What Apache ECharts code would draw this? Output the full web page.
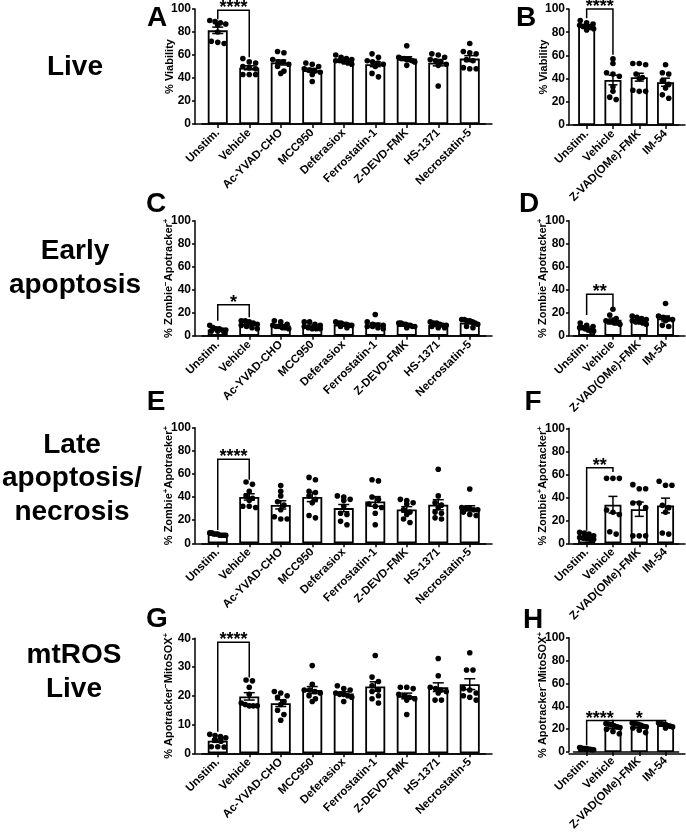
<!DOCTYPE html>
<html><head><meta charset="utf-8">
<script src="https://cdn.jsdelivr.net/npm/echarts@6/dist/echarts.min.js"></script>
<style>html,body{margin:0;padding:0;background:#fff}#c{width:686px;height:833px}</style>
</head><body><div id="c"></div>
<script>
// ---------- categories ----------
const catsLeft = ['Unstim.', 'Vehicle', 'Ac-YVAD-CHO', 'MCC950', 'Deferasiox', 'Ferrostatin-1', 'Z-DEVD-FMK', 'HS-1371', 'Necrostatin-5'];
const catsRight = ['Unstim.', 'Vehicle', 'Z-VAD(OMe)-FMK', 'IM-54'];

// ---------- individual replicate values (one array per group) ----------
const viabilityLeft = [
  [90, 89, 88, 87, 86, 80, 71, 70, 72],
  [57, 54, 53, 50, 49, 48, 43, 43, 43],
  [63, 62, 56, 54, 54, 52, 50, 46, 44],
  [53, 52, 50, 48, 47, 46, 45, 43, 37],
  [60, 58, 57, 56, 55, 55, 54, 53, 52],
  [61, 58, 55, 54, 53, 52, 50, 44, 41],
  [68, 58, 57, 57, 56, 56, 55, 54, 51],
  [61, 60, 58, 56, 55, 54, 52, 51, 33],
  [70, 63, 62, 61, 56, 55, 49, 48, 48]
];
const viabilityRight = [
  [90, 88, 87, 86, 85, 85, 84, 83, 82],
  [57, 53, 45, 44, 42, 33, 29, 24, 22],
  [53, 53, 52, 44, 41, 40, 30, 29, 29],
  [52, 45, 44, 38, 35, 32, 26, 23]
];
const earlyLeft = [
  [9, 7, 6, 6, 5, 5, 4, 4, 3],
  [13, 13, 12, 11, 10, 9, 8, 7, 6],
  [13, 12, 10, 9, 8, 8, 7, 7, 6],
  [12, 12, 10, 9, 8, 7, 6, 6, 6],
  [12, 11, 11, 10, 10, 9, 9, 8, 7],
  [18.5, 12, 10, 9, 9, 8, 8, 7, 6],
  [11, 11, 10, 10, 9, 9, 8, 8, 7],
  [12, 11, 11, 10, 9, 9, 8, 7, 7],
  [14, 14, 13, 13, 12, 11, 10, 8, 7]
];
const earlyRight = [
  [11, 9, 8, 7, 7, 6, 5, 4, 4],
  [23, 18, 15, 13, 12, 12, 11, 11, 10],
  [17, 16, 15, 14, 13, 12, 12, 11, 10],
  [28, 17, 16, 15, 14, 13, 9, 8]
];
const lateLeft = [
  [9, 9, 8, 8, 8, 7, 7, 7, 7],
  [53, 51, 45, 41, 39, 37, 32, 32, 31],
  [50, 45, 41, 36, 33, 29, 23, 21, 21],
  [57, 55, 45, 44, 41, 38, 35, 24, 22],
  [41, 40, 38, 37, 32, 26, 25, 19, 16],
  [55, 54, 40, 38, 34, 32, 31, 26, 16],
  [38, 37, 35, 34, 29, 27, 25, 21, 18],
  [64, 41, 35, 33, 31, 27, 26, 22, 21],
  [47, 31, 30, 30, 29, 29, 27, 25, 24]
];
const lateRight = [
  [9.5, 9, 8, 6.5, 5, 4.5, 4, 3.5, 3.5],
  [56.5, 56.5, 56.5, 29, 27, 25, 10, 8],
  [51, 47.5, 47.5, 35, 35, 31, 6.5, 6.5, 6.5],
  [54, 50.5, 50.5, 33, 31, 27, 9, 8]
];
const mtrosLeft = [
  [6.6, 6.2, 5.8, 5.4, 4.6, 4.2, 2.3, 2.3, 2.2],
  [25.5, 25.2, 23, 20.5, 17.5, 17, 16.5, 16.5, 16.5],
  [21.5, 21, 20, 19.5, 18, 17, 15, 13.5, 11.5],
  [30.5, 24, 22, 22, 21.5, 21, 20, 19, 18],
  [23.5, 22.5, 22, 21, 20.5, 20.5, 20, 19.5, 18],
  [34, 26.5, 25, 23.5, 22, 21.5, 20, 19, 17.5],
  [23, 23, 22.5, 20.5, 20, 19.5, 19, 18.5, 13.5],
  [33, 27, 23, 22.5, 22, 21.5, 21, 18.5, 18.5],
  [35, 29, 29, 22.5, 22, 21, 20, 19.5, 18.5]
];
const mtrosRight = [
  [4, 3.5, 3, 3, 3, 2.5, 2.5, 2, 2],
  [25, 24.5, 24, 23, 22, 21.5, 20, 18, 16],
  [25.5, 25, 24.5, 23.5, 22.5, 22, 21, 19, 17],
  [25.5, 25, 24.5, 24, 23.5, 23, 22.5, 22, 21]
];

// ---------- significance brackets: [from, to, top, leftLegEnd, rightLegEnd] ----------
const sigA = [[0, 1, 99, 91, 58]];       const sigALabels = ['****'];
const sigB = [[0, 1, 100, 92, 60.5]];    const sigBLabels = ['****'];
const sigC = [[0, 1, 27, 13, 16]];       const sigCLabels = ['*'];
const sigD = [[0, 1, 36, 18, 22]];       const sigDLabels = ['**'];
const sigE = [[0, 1, 72.6, 11.5, 55]];   const sigELabels = ['****'];
const sigF = [[0, 1, 65.6, 11, 62]];     const sigFLabels = ['**'];
const sigG = [[0, 1, 38.6, 7.5, 26.4]];  const sigGLabels = ['****'];
const sigH = [[0, 1, 27.5, 6, 25.5], [1, 3, 27.5, 25.5, 19]]; const sigHLabels = ['****', '*'];

// ---------- axis ticks ----------
const yMaxPct = 100, yStepPct = 20;
const yMaxG = 40, yStepG = 10;

const rowTitles = ['Live', 'Early\napoptosis', 'Late\napoptosis/\nnecrosis', 'mtROS\nLive'];
const panelLetters = ['A', 'B', 'C', 'D', 'E', 'F', 'G', 'H'];

// ---------- helpers ----------
const FONT = '"Liberation Sans", Arial, Helvetica, sans-serif';
function mean(a) { return a.reduce((s, v) => s + v, 0) / a.length; }
function sem(a) {
  const m = mean(a);
  const sd = Math.sqrt(a.reduce((s, v) => s + (v - m) * (v - m), 0) / (a.length - 1));
  return sd / Math.sqrt(a.length);
}

const LEFT = { left: 202, width: 283.5, frameLeft: 195, frameWidth: 297, off: 7, barW: 20, cap: 5.5, spread: 16 };
const RIGHT = { left: 573.5, width: 105.2, frameLeft: 569, frameWidth: 116, off: 4.5, barW: 17, cap: 4.5, spread: 14 };
const supRich = { sup: { fontSize: 8, fontWeight: 'bold', fontFamily: FONT, color: '#000', verticalAlign: 'top', padding: [0, 0, 5, 0] } };

const panels = [
  Object.assign({}, LEFT,  { top: 9,     height: 115,   cats: catsLeft,  data: viabilityLeft,  yMax: yMaxPct, yStep: yStepPct, name: '% Viability', sig: sigA, sigLabels: sigALabels }),
  Object.assign({}, RIGHT, { top: 9,     height: 116,   cats: catsRight, data: viabilityRight, yMax: yMaxPct, yStep: yStepPct, name: '% Viability', sig: sigB, sigLabels: sigBLabels }),
  Object.assign({}, LEFT,  { top: 220.7, height: 115,   cats: catsLeft,  data: earlyLeft,  yMax: yMaxPct, yStep: yStepPct, name: '% Zombie{sup|−}Apotracker{sup|+}', sig: sigC, sigLabels: sigCLabels }),
  Object.assign({}, RIGHT, { top: 220.7, height: 115,   cats: catsRight, data: earlyRight, yMax: yMaxPct, yStep: yStepPct, name: '% Zombie{sup|−}Apotracker{sup|+}', sig: sigD, sigLabels: sigDLabels }),
  Object.assign({}, LEFT,  { top: 427.7, height: 115.6, cats: catsLeft,  data: lateLeft,   yMax: yMaxPct, yStep: yStepPct, name: '% Zombie{sup|+}Apotracker{sup|+}', sig: sigE, sigLabels: sigELabels }),
  Object.assign({}, RIGHT, { top: 428.3, height: 115,   cats: catsRight, data: lateRight,  yMax: yMaxPct, yStep: yStepPct, name: '% Zombie{sup|+}Apotracker{sup|+}', sig: sigF, sigLabels: sigFLabels }),
  Object.assign({}, LEFT,  { top: 638.3, height: 115,   cats: catsLeft,  data: mtrosLeft,  yMax: yMaxG,   yStep: yStepG,   name: '% Apotracker{sup|−}MitoSOX{sup|+}', sig: sigG, sigLabels: sigGLabels }),
  Object.assign({}, RIGHT, { top: 637.7, height: 115.6, cats: catsRight, data: mtrosRight, yMax: yMaxPct, yStep: yStepPct, name: '% Apotracker{sup|−}MitoSOX{sup|+}', sig: sigH, sigLabels: sigHLabels })
];

function dotsRender(p) {
  return function (params, api) {
    const i = api.value(0);
    const vals = p.data[i];
    const m = mean(vals), s = sem(vals);
    const cx = api.coord([i, m])[0];
    const yTop = api.coord([i, m + s])[1];
    const yBot = api.coord([i, Math.max(0, m - s)])[1];
    const ch = [];
    const ls = { stroke: '#000', lineWidth: 1.5 };
    ch.push({ type: 'line', shape: { x1: cx, y1: yTop, x2: cx, y2: yBot }, style: ls });
    ch.push({ type: 'line', shape: { x1: cx - p.cap, y1: yTop, x2: cx + p.cap, y2: yTop }, style: ls });
    ch.push({ type: 'line', shape: { x1: cx - p.cap, y1: yBot, x2: cx + p.cap, y2: yBot }, style: ls });
    // row-binned scatter layout (Prism-like)
    const dia = 5.6, rowH = 4.6;
    const pts = vals.map(v => ({ y: api.coord([i, v])[1], x: 0 })).sort((a, b) => a.y - b.y);
    const rows = [];
    pts.forEach(pt => {
      const last = rows[rows.length - 1];
      if (last && pt.y - last[0].y < rowH) last.push(pt); else rows.push([pt]);
    });
    rows.forEach(row => {
      const n = row.length;
      const sp = n > 1 ? Math.min(dia + 0.8, p.spread / (n - 1)) : 0;
      row.forEach((pt, j) => { pt.x = (j - (n - 1) / 2) * sp; });
    });
    pts.forEach(pt => ch.push({ type: 'circle', shape: { cx: cx + pt.x, cy: pt.y, r: dia / 2 }, style: { fill: '#000' } }));
    return { type: 'group', children: ch };
  };
}

function bracketRender(p) {
  return function (params, api) {
    const a = api.value(0), b = api.value(1), top = api.value(2), l = api.value(3), r = api.value(4);
    const p1 = api.coord([a, top]), p2 = api.coord([b, top]);
    const yl = api.coord([a, l])[1], yr = api.coord([b, r])[1];
    return {
      type: 'group', children: [
        { type: 'polyline', shape: { points: [[p1[0], yl], [p1[0], p1[1]], [p2[0], p2[1]], [p2[0], yr]] }, style: { stroke: '#000', lineWidth: 1.5, fill: null } },
        { type: 'text', x: (p1[0] + p2[0]) / 2, y: p1[1] - 2, style: { text: p.sigLabels[params.dataIndex], align: 'center', verticalAlign: 'middle', fontSize: 18, fontWeight: 'bold', fontFamily: FONT, fill: '#000' } }
      ]
    };
  };
}

const grid = [], xAxis = [], yAxis = [], series = [];
const axLine = { show: true, lineStyle: { color: '#000', width: 1.5 } };
panels.forEach((p, k) => {
  const g = 2 * k, f = 2 * k + 1;
  grid.push({ left: p.left, top: p.top, width: p.width, height: p.height, containLabel: false });
  grid.push({ left: p.frameLeft, top: p.top, width: p.frameWidth, height: p.height, containLabel: false });
  xAxis.push({
    gridIndex: g, type: 'category', data: p.cats, axisLine: axLine,
    axisTick: { show: true, alignWithLabel: true, length: 4, lineStyle: { color: '#000', width: 1.5 } },
    axisLabel: { rotate: 45, margin: 7, interval: 0, fontSize: 11.5, fontWeight: 'bold', color: '#000', fontFamily: FONT }
  });
  xAxis.push({ gridIndex: f, type: 'value', min: 0, max: 1, axisLine: axLine, axisTick: { show: false }, axisLabel: { show: false }, splitLine: { show: false } });
  yAxis.push({
    gridIndex: g, type: 'value', min: 0, max: p.yMax, interval: p.yStep, offset: p.off,
    axisLine: axLine, axisTick: { show: true, length: 3, lineStyle: { color: '#000', width: 1.5 } },
    axisLabel: { margin: 4, fontSize: 12, fontWeight: 'bold', color: '#000', fontFamily: FONT },
    splitLine: { show: false },
    name: p.name, nameLocation: 'middle', nameGap: 20, nameMoveOverlap: false,
    nameTextStyle: { fontSize: 11, fontWeight: 'bold', color: '#000', fontFamily: FONT, rich: supRich }
  });
  yAxis.push({ gridIndex: f, type: 'value', show: false, min: 0, max: 1 });
  series.push({
    type: 'bar', xAxisIndex: g, yAxisIndex: g, data: p.data.map(mean), barWidth: p.barW, silent: true, z: 2,
    itemStyle: { color: '#fff', borderColor: '#000', borderWidth: 1.8 }
  });
  series.push({ type: 'custom', xAxisIndex: g, yAxisIndex: g, z: 3, silent: true, data: p.data.map((v, i) => [i, mean(v)]), renderItem: dotsRender(p) });
  series.push({ type: 'custom', xAxisIndex: g, yAxisIndex: g, z: 4, silent: true, data: p.sig, renderItem: bracketRender(p) });
});

const titleCenters = [[75, 67], [75, 268.5], [72, 478.5], [74, 672.5]];
const letterPos = [[157, 18], [526, 18], [156, 204], [529, 204], [156, 402], [533, 402], [157, 619], [533, 620]];
const graphic = [];
rowTitles.forEach((t, i) => graphic.push({
  type: 'text', x: titleCenters[i][0], y: titleCenters[i][1],
  style: { text: t, align: 'center', verticalAlign: 'middle', fontSize: 28, fontWeight: 'bold', fontFamily: FONT, fill: '#000', lineHeight: 33.5 }
}));
panelLetters.forEach((t, i) => graphic.push({
  type: 'text', x: letterPos[i][0], y: letterPos[i][1],
  style: { text: t, align: 'center', verticalAlign: 'middle', fontSize: 28, fontWeight: 'bold', fontFamily: FONT, fill: '#000' }
}));

const chart = echarts.init(document.getElementById('c'), null, { renderer: 'canvas' });
chart.setOption({ animation: false, backgroundColor: '#fff', grid, xAxis, yAxis, series, graphic });
</script>
</body></html>
